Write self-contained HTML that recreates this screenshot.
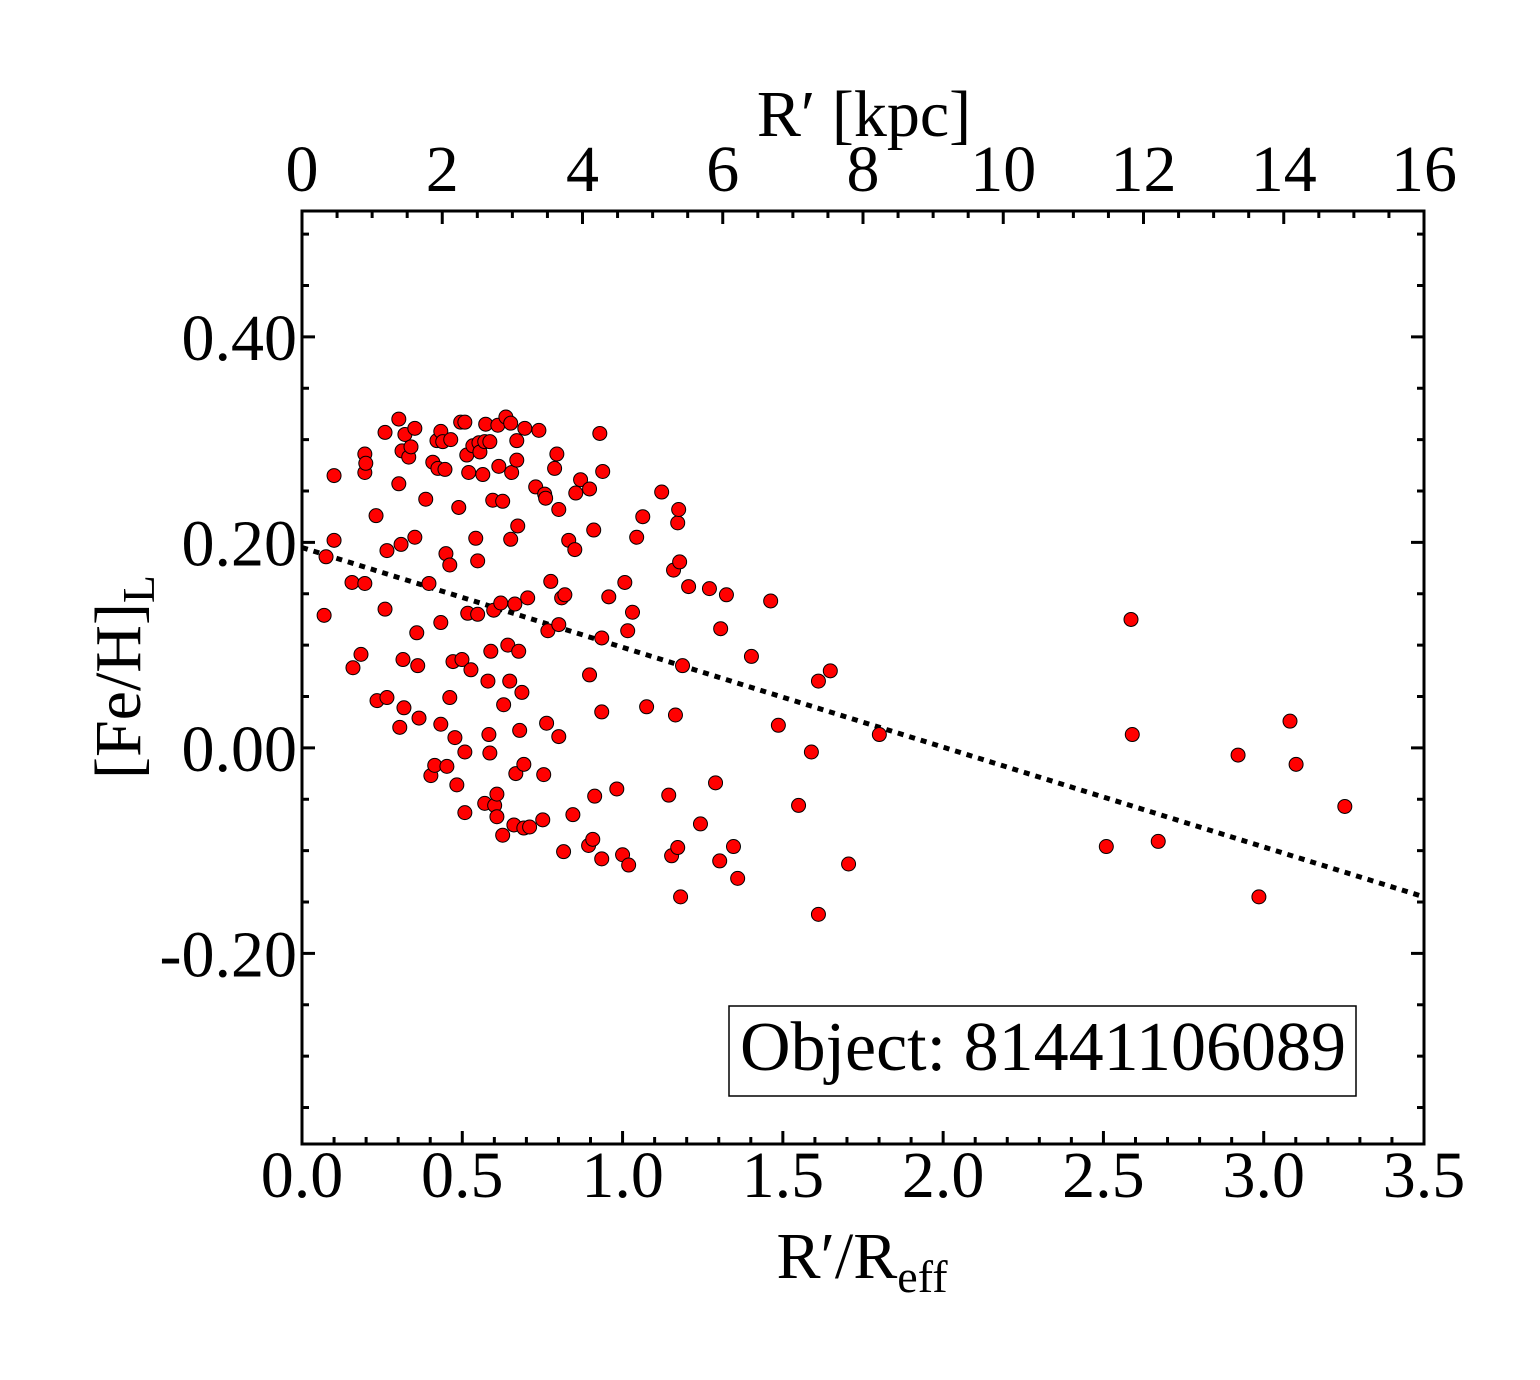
<!DOCTYPE html>
<html><head><meta charset="utf-8"><style>
html,body{margin:0;padding:0;background:#fff;}
svg text{font-family:"Liberation Serif",serif;fill:#000;}
</style></head><body>
<svg id="chart" width="1540" height="1375" viewBox="0 0 1540 1375" xmlns="http://www.w3.org/2000/svg">
<g id="ticks"></g>
<g id="labels"></g>
<line id="fit" stroke="#000" stroke-width="5" stroke-dasharray="6,6"/>
<g id="points"></g>
<rect x="302" y="211" width="1122" height="933" fill="none" stroke="#000" stroke-width="3"/>
<rect x="729" y="1006" width="627" height="90" fill="#fff" stroke="#000" stroke-width="1.5"/>
<text x="1043" y="1070" font-size="70" text-anchor="middle">Object: 81441106089</text>
<text x="862" y="1278" font-size="66" text-anchor="middle">R′/R<tspan font-size="46" dy="14">eff</tspan></text>
<text x="864" y="136" font-size="66" text-anchor="middle">R′  [kpc]</text>
<text transform="translate(140,677) rotate(-90)" font-size="66" text-anchor="middle">[Fe/H]<tspan font-size="46" dy="14">L</tspan></text>
</svg>
<script>
const xs = [0.069,0.075,0.100,0.100,0.159,0.156,0.184,0.196,0.196,0.196,0.199,0.231,0.234,0.259,0.259,0.265,0.265,0.302,0.302,0.309,0.312,0.315,0.318,0.305,0.321,0.333,0.340,0.352,0.352,0.358,0.361,0.365,0.386,0.396,0.402,0.408,0.414,0.421,0.424,0.433,0.433,0.433,0.439,0.446,0.449,0.452,0.461,0.461,0.464,0.471,0.477,0.483,0.489,0.495,0.499,0.508,0.508,0.508,0.514,0.517,0.520,0.527,0.533,0.542,0.548,0.548,0.552,0.555,0.564,0.570,0.570,0.573,0.580,0.583,0.586,0.586,0.589,0.595,0.598,0.601,0.608,0.608,0.611,0.614,0.620,0.626,0.626,0.629,0.636,0.642,0.648,0.651,0.651,0.654,0.661,0.664,0.667,0.670,0.670,0.673,0.676,0.679,0.686,0.692,0.692,0.695,0.704,0.710,0.729,0.739,0.751,0.754,0.757,0.760,0.763,0.767,0.776,0.788,0.795,0.801,0.801,0.801,0.810,0.816,0.820,0.832,0.845,0.851,0.854,0.869,0.894,0.897,0.897,0.907,0.910,0.913,0.929,0.935,0.935,0.935,0.938,0.957,0.982,1.000,1.007,1.016,1.019,1.031,1.044,1.063,1.075,1.122,1.144,1.153,1.159,1.165,1.172,1.172,1.175,1.178,1.181,1.187,1.206,1.243,1.271,1.290,1.303,1.306,1.324,1.346,1.359,1.402,1.486,1.462,1.549,1.589,1.611,1.611,1.648,1.705,1.801,2.509,2.586,2.590,2.671,2.920,2.985,3.082,3.101,3.253];
const ys = [0.129,0.186,0.265,0.202,0.078,0.161,0.091,0.160,0.286,0.268,0.277,0.226,0.046,0.307,0.135,0.049,0.192,0.320,0.257,0.198,0.289,0.086,0.039,0.020,0.305,0.283,0.293,0.311,0.205,0.112,0.080,0.029,0.242,0.160,-0.027,0.278,-0.017,0.299,0.272,0.122,0.023,0.308,0.298,0.271,0.189,-0.018,0.049,0.178,0.300,0.084,0.010,-0.036,0.234,0.317,0.086,-0.063,0.317,-0.004,0.285,0.131,0.268,0.076,0.294,0.204,0.182,0.130,0.297,0.288,0.266,0.298,-0.054,0.315,0.065,0.013,-0.005,0.298,0.094,0.241,0.134,-0.056,-0.045,-0.067,0.314,0.274,0.141,-0.085,0.240,0.042,0.322,0.100,0.065,0.316,0.203,0.268,-0.075,0.140,-0.025,0.280,0.299,0.216,0.094,0.017,0.054,-0.016,-0.078,0.311,0.146,-0.077,0.254,0.309,-0.070,-0.026,0.247,0.243,0.024,0.114,0.162,0.272,0.286,0.232,0.011,0.120,0.146,-0.101,0.149,0.202,-0.065,0.193,0.248,0.261,-0.095,0.252,0.071,-0.089,0.212,-0.047,0.306,0.035,0.107,-0.108,0.269,0.147,-0.040,-0.104,0.161,0.114,-0.114,0.132,0.205,0.225,0.040,0.249,-0.046,-0.105,0.173,0.032,-0.097,0.219,0.232,0.181,-0.145,0.080,0.157,-0.074,0.155,-0.034,-0.110,0.116,0.149,-0.096,-0.127,0.089,0.022,0.143,-0.056,-0.004,0.065,-0.162,0.075,-0.113,0.013,-0.096,0.125,0.013,-0.091,-0.007,-0.145,0.026,-0.016,-0.057];
const fitX = [0, 3.5];
const fitY = [0.195, -0.145];
const xTickLabels = ["0.0","0.5","1.0","1.5","2.0","2.5","3.0","3.5"];
const topTickLabels = ["0","2","4","6","8","10","12","14","16"];
const yTickLabels = ["-0.20","0.00","0.20","0.40"];

const X0=302,X1=1424,Y0=211,Y1=1144;
const xmin=0,xmax=3.5,ymin=-0.3855,ymax=0.5225;
function sx(v){return X0+(v-xmin)/(xmax-xmin)*(X1-X0);}
function sy(v){return Y1-(v-ymin)/(ymax-ymin)*(Y1-Y0);}
function kx(v){return sx(v*3.5/16);}
const NS="http://www.w3.org/2000/svg";
function mk(tag,attrs,parent){const e=document.createElementNS(NS,tag);for(const k in attrs)e.setAttribute(k,attrs[k]);parent.appendChild(e);return e;}
const T=document.getElementById('ticks'),L=document.getElementById('labels'),P=document.getElementById('points');
for(let i=0;i<=35;i++){const v=i/10,x=sx(v),len=(i%5==0)?13:7;
 const t=mk('line',{x1:x,x2:x,y1:Y1,y2:Y1-len,stroke:'#000','stroke-width':3},T);
 
 }
for(let i=0;i<=32;i++){const v=i/2,x=kx(v),len=(i%4==0)?13:7;
 const t=mk('line',{x1:x,x2:x,y1:Y0,y2:Y0+len,stroke:'#000','stroke-width':3},T);
 
 }
for(let i=-7;i<=10;i++){const v=i*0.05,y=sy(v),len=(i%4==0)?13:7;
 const a=mk('line',{x1:X0,x2:X0+len,y1:y,y2:y,stroke:'#000','stroke-width':3},T);
 
 
 const b=mk('line',{x1:X1,x2:X1-len,y1:y,y2:y,stroke:'#000','stroke-width':3},T);
 
 }
xTickLabels.forEach(s=>{const t=mk('text',{x:sx(parseFloat(s)),y:1197,'font-size':66,'text-anchor':'middle'},L);t.textContent=s;
 
 });
topTickLabels.forEach(s=>{const t=mk('text',{x:kx(parseFloat(s)),y:191,'font-size':66,'text-anchor':'middle'},L);t.textContent=s;
 
 });
yTickLabels.forEach(s=>{const t=mk('text',{x:297,y:sy(parseFloat(s))+23,'font-size':66,'text-anchor':'end'},L);t.textContent=s;
 
 });
const f=document.getElementById('fit');
f.setAttribute('x1',sx(fitX[0]));f.setAttribute('y1',sy(fitY[0]));
f.setAttribute('x2',sx(fitX[1]));f.setAttribute('y2',sy(fitY[1]));
xs.forEach((v,i)=>{const c=mk('circle',{cx:sx(v),cy:sy(ys[i]),r:7,fill:'#ff0000',stroke:'#000','stroke-width':1},P);
 
 });
</script>
</body></html>
